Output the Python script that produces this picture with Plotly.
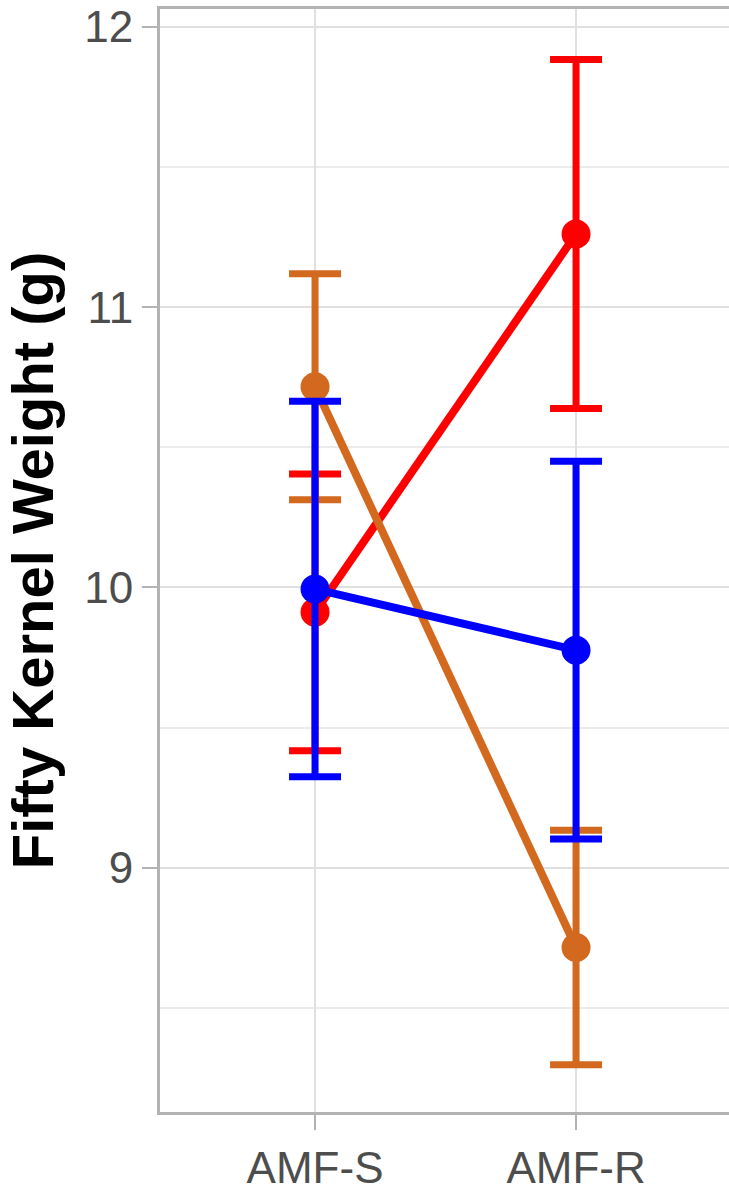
import plotly.graph_objects as go

categories = ["AMF-S", "AMF-R"]
x_pos = [0, 1]

red_mean = [9.911, 11.261]
red_se = [0.494, 0.623]
orange_mean = [10.716, 8.715]
orange_se = [0.403, 0.418]
blue_mean = [9.994, 9.776]
blue_se = [0.670, 0.674]

series = [
    ("red", red_mean, red_se, "#FF0000"),
    ("orange", orange_mean, orange_se, "#D2691E"),
    ("blue", blue_mean, blue_se, "#0000FF"),
]

y_ticks = [9, 10, 11, 12]

fig = go.Figure()
for name, mean, se, col in series:
    fig.add_trace(go.Scatter(
        x=x_pos, y=mean, name=name, mode="lines+markers",
        line=dict(color=col, width=8),
        marker=dict(color=col, size=29),
        error_y=dict(type="data", array=se, visible=True, color=col,
                     thickness=7, width=26),
        showlegend=False,
    ))

FONT = "Liberation Sans, Arial, sans-serif"
fig.update_layout(
    width=729, height=1192,
    margin=dict(l=160, r=0, t=9, b=74),
    plot_bgcolor="white", paper_bgcolor="white",
    font=dict(family=FONT),
)
fig.update_xaxes(
    range=[-0.594, 1.586],
    tickvals=x_pos, ticktext=categories,
    tickfont=dict(size=44, color="#4D4D4D", family=FONT),
    ticks="outside", ticklen=15, tickwidth=2, tickcolor="#B3B3B3",
    showgrid=True, gridcolor="#E0E0E0", gridwidth=2,
    showline=True, linecolor="#B3B3B3", linewidth=3, mirror=True,
    zeroline=False, ticklabeloverflow="allow",
)
fig.update_yaxes(
    range=[8.128, 12.064],
    tickvals=y_ticks,
    tickfont=dict(size=44, color="#4D4D4D", family=FONT),
    ticks="outside", ticklen=15, tickwidth=2, tickcolor="#B3B3B3",
    showgrid=True, gridcolor="#E0E0E0", gridwidth=2,
    minor=dict(dtick=0.5, tick0=8.5, showgrid=True, gridcolor="#EBEBEB", gridwidth=1.5),
    showline=True, linecolor="#B3B3B3", linewidth=3, mirror=False,
    zeroline=False, ticklabeloverflow="allow",
    title=dict(text="<b>Fifty Kernel Weight (g)</b>", font=dict(size=58, color="black", family=FONT), standoff=14),
)

fig.write_html(
    "out.html",
    config={"displayModeBar": False},
    post_script=(
        "document.documentElement.style.margin='0';"
        "document.body.style.margin='0';"
        "document.body.style.overflow='hidden';"
        "document.documentElement.style.overflow='hidden';"
    ),
)
